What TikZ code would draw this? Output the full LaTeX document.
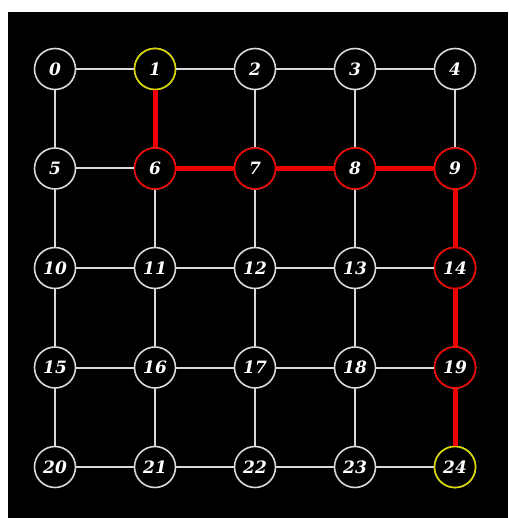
\documentclass[tikz,border=0pt]{standalone}
\usepackage{fontspec}
\setmainfont{DejaVu Serif}
\definecolor{lightline}{rgb}{0.85,0.85,0.85}
\definecolor{pathred}{rgb}{0.95,0,0}
\definecolor{endyellow}{rgb}{0.85,0.85,0}

\begin{document}
\begin{tikzpicture}[x=1pt, y=-1pt,
    vertex/.style={circle, draw=lightline, fill=black, line width=1.6pt, minimum size=41pt, inner sep=0pt, text=white, font=\fontsize{17}{19}\selectfont\bfseries\itshape},
    onpath/.style={vertex, draw=pathred},
    endpoint/.style={vertex, draw=endyellow},
    gridline/.style={draw=lightline, line width=2pt},
    route/.style={draw=pathred, line width=5pt}
]
    % page and background
    \useasboundingbox (0,0) rectangle (508,518);
    \fill[black] (8,12) rectangle (508,518);

    % vertices
    \foreach \i in {0,...,24} {
        \pgfmathtruncatemacro{\col}{mod(\i,5)}
        \pgfmathtruncatemacro{\row}{div(\i,5)}
        \node[vertex] (n\i) at (55+100*\col, 69+99.5*\row) {\i};
    }
    \foreach \i in {6,7,8,9,14,19} \node[onpath] at (n\i) {\i};
    \foreach \i in {1,24} \node[endpoint] at (n\i) {\i};

    % grid edges
    \foreach \row in {0,...,4} {
        \foreach \col in {0,...,3} {
            \pgfmathtruncatemacro{\a}{5*\row+\col}
            \pgfmathtruncatemacro{\b}{\a+1}
            \draw[gridline] (n\a) -- (n\b);
        }
    }
    \foreach \a in {0,...,19} {
        \pgfmathtruncatemacro{\b}{\a+5}
        \draw[gridline] (n\a) -- (n\b);
    }

    % shortest route
    \foreach \a/\b in {1/6, 6/7, 7/8, 8/9, 9/14, 14/19, 19/24}
        \draw[route] (n\a) -- (n\b);
\end{tikzpicture}
\end{document}
